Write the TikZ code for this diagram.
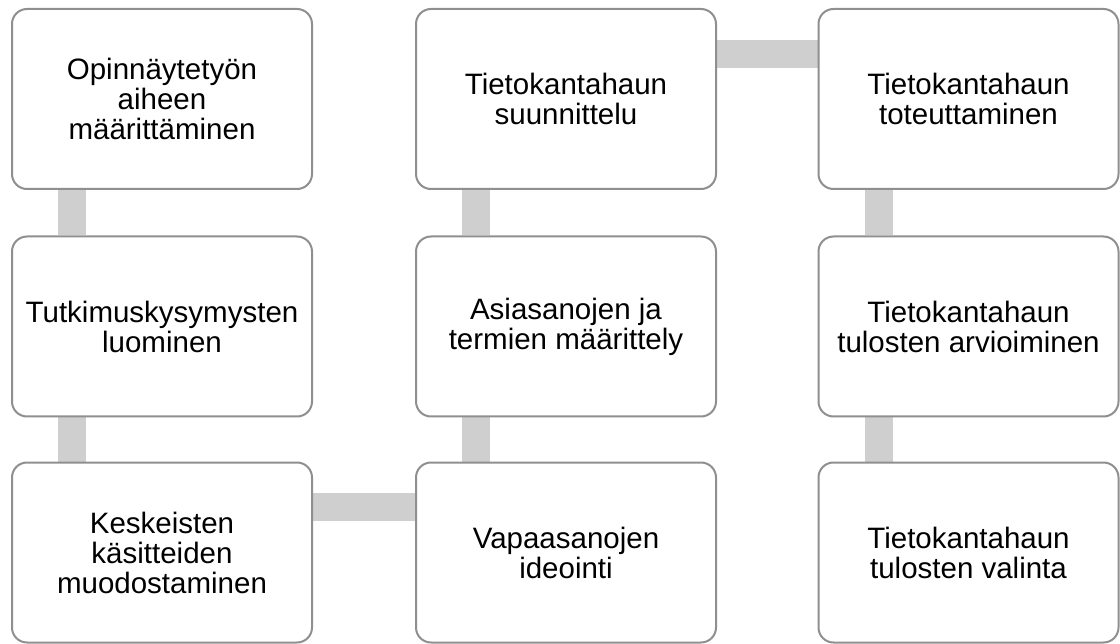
\documentclass[tikz,border=0pt]{standalone}
\usepackage{fontspec}
\setmainfont{Liberation Sans}
\usetikzlibrary{calc,backgrounds}
\definecolor{boxline}{HTML}{8F8F8F}
\definecolor{barfill}{HTML}{CFCFCF}
\tikzset{
  stage/.style={rectangle, draw=boxline, line width=2pt, fill=white,
    rounded corners=15pt, minimum width=300pt, minimum height=180pt,
    align=center, font=\fontsize{29.5}{30}\selectfont, text=black},
  linkbar/.style={draw=barfill, line width=28pt}
}
\begin{document}
\begin{tikzpicture}[x=1pt,y=-1pt]
\useasboundingbox (0,0) rectangle (1120,644);
% column 1
\node[stage] (a1) at (162,99) {Opinnäytetyön\\aiheen\\määrittäminen};
\node[stage] (a2) at (162,326.5) {Tutkimuskysymysten\\luominen};
\node[stage] (a3) at (162,552.5) {Keskeisten\\käsitteiden\\muodostaminen};
% column 2
\node[stage] (b3) at (566,552.5) {Vapaasanojen\\ideointi};
\node[stage] (b2) at (566,326.5) {Asiasanojen ja\\termien määrittely};
\node[stage] (b1) at (566,99) {Tietokantahaun\\suunnittelu};
% column 3
\node[stage] (c1) at (968.5,99) {Tietokantahaun\\toteuttaminen};
\node[stage] (c2) at (968.5,326.5) {Tietokantahaun\\tulosten arvioiminen};
\node[stage] (c3) at (968.5,552.5) {Tietokantahaun\\tulosten valinta};
% connecting bars behind the boxes
\begin{scope}[on background layer]
\draw[linkbar] ($(a1.south west)+(61,0)$) -- ($(a2.north west)+(61,0)$);
\draw[linkbar] ($(a2.south west)+(61,0)$) -- ($(a3.north west)+(61,0)$);
\draw[linkbar] ($(a3.north east)+(0,45)$) -- ($(b3.north west)+(0,45)$);
\draw[linkbar] ($(b3.north west)+(61,0)$) -- ($(b2.south west)+(61,0)$);
\draw[linkbar] ($(b2.north west)+(61,0)$) -- ($(b1.south west)+(61,0)$);
\draw[linkbar] ($(b1.north east)+(0,46)$) -- ($(c1.north west)+(0,46)$);
\draw[linkbar] ($(c1.south west)+(61,0)$) -- ($(c2.north west)+(61,0)$);
\draw[linkbar] ($(c2.south west)+(61,0)$) -- ($(c3.north west)+(61,0)$);
\end{scope}
\end{tikzpicture}
\end{document}
